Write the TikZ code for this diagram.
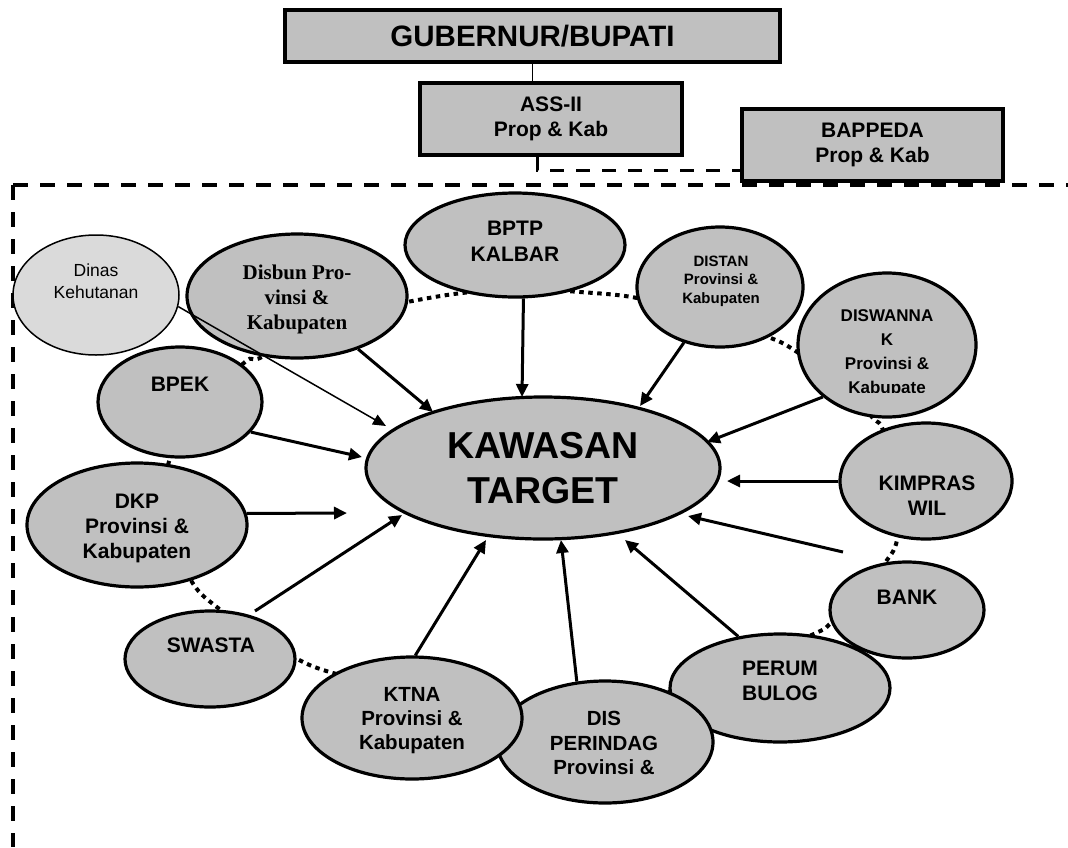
\documentclass[tikz,border=0pt]{standalone}
\usepackage{fontspec}
\setmainfont{Liberation Sans}
\newfontfamily\serifbold{Liberation Serif}
\usetikzlibrary{shapes.geometric,arrows.meta}
\definecolor{boxgray}{RGB}{192,192,192}
\definecolor{palegray}{RGB}{218,218,218}
\begin{document}
\begin{tikzpicture}[x=1pt,y=-1pt,
  box/.style={draw,line width=3.2pt,fill=boxgray,inner sep=0pt,align=center,font=\bfseries\fontsize{21}{25}\selectfont},
  oval/.style={ellipse,draw,line width=3.2pt,fill=boxgray,inner sep=0pt},
  lbl/.style={align=center,inner sep=0pt,font=\bfseries\fontsize{21}{25}\selectfont},
  arr/.style={line width=3pt,-{Triangle[length=13pt,width=12pt]}},
  thinarr/.style={line width=1.5pt,-{Triangle[length=13pt,width=11pt]}},
  dotline/.style={line width=4pt,dash pattern=on 4.5pt off 4.5pt},
  framedash/.style={line width=3.5pt,dash pattern=on 15pt off 12pt},
  linkdash/.style={line width=3pt,dash pattern=on 14pt off 12pt}]
\useasboundingbox (0,0) rectangle (1068,847);

% frame
\coordinate (f1) at (13,847);
\coordinate (f2) at (13,185);
\coordinate (f3) at (1068,185);
\draw[framedash] (f2) -- (f3);
\draw[framedash] (f2) -- (f1);

% top boxes
\node[box,minimum width=495pt,minimum height=52pt,font=\bfseries\fontsize{29.5}{32}\selectfont] (gub) at (532.5,36) {GUBERNUR/BUPATI};
\node[box,minimum width=262pt,minimum height=72pt] (ass) at (551,119) {ASS-II\\Prop \& Kab};
\node[box,minimum width=261pt,minimum height=72pt] (bap) at (872.5,145) {BAPPEDA\\Prop \& Kab};
\draw[line width=1.5pt] (gub.south) -- (gub.south |- ass.north);
\coordinate (c1) at (537,157);
\coordinate (c2) at (bap.west |- 0,170);
\draw[linkdash] (c1) |- (c2);

% dotted ring
\draw[dotline] plot[smooth cycle,tension=0.55] coordinates {(262,357) (330,318) (407,302) (462,293) (520,289) (580,292) (637,298) (700,316) (768,337) (797,352) (840,385) (873,418) (883,430) (900,485) (897,540) (885,563) (860,598) (831,623) (816,633) (740,665) (640,700) (540,712) (440,700) (333,673) (295,658) (255,635) (218,608) (192,582) (165,520) (170,458) (200,410) (245,362)};

% ellipses
\node[oval,minimum width=354pt,minimum height=142pt,font=\bfseries\fontsize{37.5}{45}\selectfont,align=center] (kaw) at (543,468) {KAWASAN\\TARGET};
\node[oval,fill=palegray,line width=1.5pt,minimum width=166pt,minimum height=120pt] (dinas) at (96,295) {};
\node[oval,minimum width=220pt,minimum height=124pt] (disbun) at (297,296) {};
\node[oval,minimum width=164pt,minimum height=110pt] (bpek) at (180,402) {};
\node[oval,minimum width=220pt,minimum height=104pt] (bptp) at (515,245) {};
\node[oval,minimum width=166pt,minimum height=120pt] (distan) at (720,287) {};
\node[oval,minimum width=178pt,minimum height=144pt] (diswannak) at (887,345) {};
\node[oval,minimum width=172pt,minimum height=116pt] (kimpras) at (926,481) {};
\node[oval,minimum width=154pt,minimum height=96pt] (bank) at (907,610) {};
\node[oval,minimum width=220pt,minimum height=108pt] (perum) at (780,688) {};
\node[oval,minimum width=216pt,minimum height=122pt] (disp) at (605,742) {};
\node[oval,minimum width=220pt,minimum height=122pt] (ktna) at (412,718) {};
\node[oval,minimum width=170pt,minimum height=96pt] (swasta) at (210,659) {};
\node[oval,minimum width=220pt,minimum height=124pt] (dkp) at (137,525) {};

% labels
\node[align=center,inner sep=0pt,font=\fontsize{17.5}{22}\selectfont] (dinast) at (96,281) {Dinas\\Kehutanan};
\node[align=center,inner sep=0pt,font=\serifbold\bfseries\fontsize{21}{25}\selectfont] (disbunt) at (297,299) {Disbun Pro-\\vinsi \&\\Kabupaten};
\node[lbl] (bpekt) at (180,384) {BPEK};
\node[lbl,font=\bfseries\fontsize{21}{26}\selectfont] (bptpt) at (515,241) {BPTP\\KALBAR};
\node[lbl,font=\bfseries\fontsize{15}{18.5}\selectfont] (distant) at (721,281) {DISTAN\\Provinsi \&\\Kabupaten};
\begin{scope}
\clip (780,250) rectangle (1000,392);
\node[lbl,font=\bfseries\fontsize{17}{24}\selectfont] (diswannakt) at (887,353) {DISWANNA\\K\\Provinsi \&\\Kabupate};
\end{scope}
\node[lbl] (kimprast) at (927,496) {KIMPRAS\\WIL};
\node[lbl] (bankt) at (907,597) {BANK};
\node[lbl] (perumt) at (780,681) {PERUM\\BULOG};
\node[lbl,font=\bfseries\fontsize{20.5}{24.5}\selectfont] (dispt) at (604,743) {DIS\\PERINDAG\\Provinsi \&};
\node[lbl,font=\bfseries\fontsize{20.5}{24}\selectfont] (ktnat) at (412,721) {KTNA\\Provinsi \&\\Kabupaten};
\node[lbl] (swastat) at (211,645) {SWASTA};
\node[lbl] (dkpt) at (137,528) {DKP\\Provinsi \&\\Kabupaten};

% arrow ends
\coordinate (tdinas) at (386,426);
\coordinate (tdisbun) at (433,412);
\coordinate (tbptp) at (522,397);
\coordinate (tdistan) at (640,406);
\coordinate (tdisw) at (707,442);
\coordinate (tkimp) at (727,481);
\coordinate (sbank) at (843,552);
\coordinate (tbank) at (688,516);
\coordinate (tperum) at (625,540);
\coordinate (tdisp) at (561,540);
\coordinate (tktna) at (486,540);
\coordinate (sswasta) at (255,611);
\coordinate (tswasta) at (402,515);
\coordinate (tdkp) at (347,513);
\coordinate (tbpek) at (362,457);

\draw[thinarr] (dinas.-8) -- (tdinas);
\draw[arr] (disbun.-41.5) -- (tdisbun);
\draw[arr] (bptp.-81) -- (tbptp);
\draw[arr] (distan.-123.5) -- (tdistan);
\draw[arr] (diswannak.-141.3) -- (tdisw);
\draw[arr] (kimpras.180) -- (tkimp);
\draw[arr] (sbank) -- (tbank);
\draw[arr] (perum.129.8) -- (tperum);
\draw[arr] (disp.115.8) -- (tdisp);
\draw[arr] (ktna.87) -- (tktna);
\draw[arr] (sswasta) -- (tswasta);
\draw[arr] (dkp.6.3) -- (tdkp);
\draw[arr] (bpek.-23.2) -- (tbpek);
\end{tikzpicture}
\end{document}
